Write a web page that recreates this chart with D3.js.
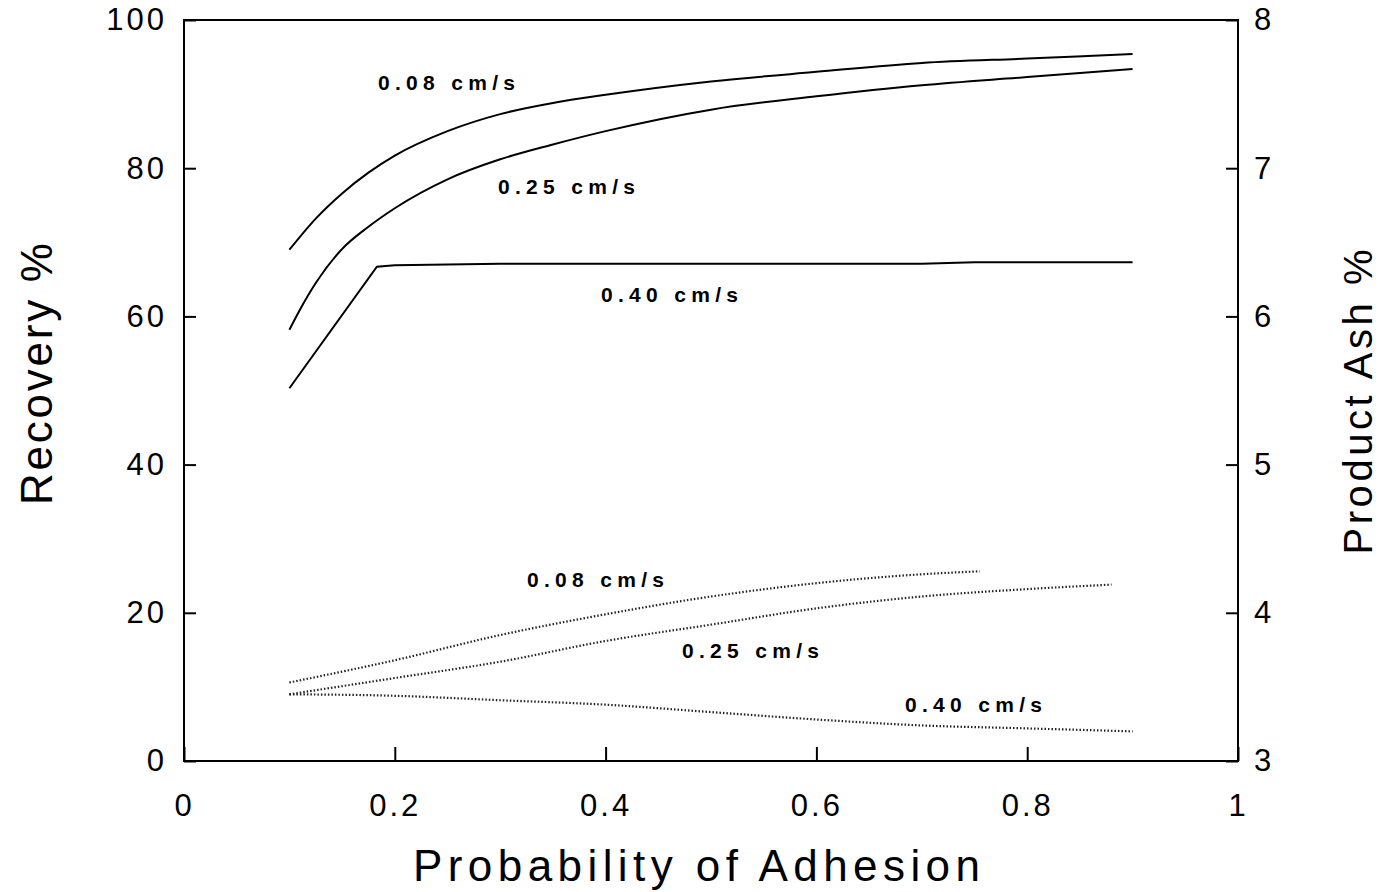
<!DOCTYPE html>
<html><head><meta charset="utf-8">
<script src="https://cdn.jsdelivr.net/npm/d3@7/dist/d3.min.js"></script>
<style>body{margin:0;background:#fff}svg{display:block}text{font-family:"Liberation Sans",Arial,sans-serif;fill:#000}</style>
</head><body><svg id="c" width="1380" height="892"></svg>
<script>
// Recovery % (left axis) — solid lines
const recX008 = [0.1,0.125,0.15,0.175,0.2,0.25,0.3,0.35,0.4,0.5,0.6,0.7,0.8,0.9];
const rec008  = [69.0,73.2,76.6,79.4,81.7,85.0,87.3,88.8,89.9,91.7,93.0,94.2,94.8,95.4];
const recX025 = [0.1,0.11,0.125,0.15,0.175,0.2,0.25,0.3,0.35,0.4,0.5,0.6,0.7,0.8,0.9];
const rec025  = [58.2,60.9,64.5,69.1,72.1,74.6,78.5,81.2,83.2,85.0,87.9,89.7,91.2,92.3,93.4];
const recX040 = [0.1,0.183,0.2,0.3,0.5,0.7,0.75,0.9];
const rec040  = [50.3,66.7,66.9,67.1,67.1,67.1,67.3,67.3];
// Product Ash % (right axis) — dotted lines
const ashX008 = [0.1,0.2,0.3,0.4,0.5,0.6,0.7,0.755];
const ash008  = [3.53,3.68,3.85,3.99,4.11,4.20,4.26,4.28];
const ashX025 = [0.1,0.2,0.3,0.4,0.5,0.6,0.7,0.8,0.88];
const ash025  = [3.45,3.56,3.67,3.81,3.92,4.03,4.11,4.16,4.19];
const ashX040 = [0.1,0.2,0.3,0.4,0.5,0.6,0.7,0.8,0.9];
const ash040  = [3.45,3.44,3.41,3.38,3.33,3.28,3.24,3.22,3.20];
// ticks
const xTicks = [0,0.2,0.4,0.6,0.8,1];
const xTickLabels = ["0","0.2","0.4","0.6","0.8","1"];
const yTicks = [0,20,40,60,80,100];
const y2Ticks = [3,4,5,6,7,8];
const seriesLabels = ["0.08 cm/s","0.25 cm/s","0.40 cm/s"];

const svg = d3.select("#c");
const L=184, R=1238, T=20, B=761;
const x = d3.scaleLinear().domain([0,1]).range([L,R]);
const y = d3.scaleLinear().domain([0,100]).range([B,T]);
const y2 = d3.scaleLinear().domain([3,8]).range([B,T]);

// frame
svg.append("rect").attr("x",L).attr("y",T).attr("width",R-L).attr("height",B-T)
  .attr("fill","none").attr("stroke","#000").attr("stroke-width",2);

function styleAxis(g){
  g.select(".domain").remove();
  g.selectAll(".tick line").attr("stroke","#000").attr("stroke-width",2);
  g.selectAll(".tick text").attr("font-size",31).attr("letter-spacing",3).attr("fill","#000");
}
svg.append("g").attr("transform",`translate(${L},0)`)
  .call(d3.axisLeft(y).tickValues(yTicks).tickFormat(d3.format("d")).tickSize(-12).tickPadding(17))
  .call(styleAxis);
svg.append("g").attr("transform",`translate(${R},0)`)
  .call(d3.axisRight(y2).tickValues(y2Ticks).tickFormat(d3.format("d")).tickSize(-12).tickPadding(16))
  .call(styleAxis);
svg.append("g").attr("transform",`translate(0,${B})`)
  .call(d3.axisBottom(x).tickValues(xTicks).tickFormat((d,i)=>xTickLabels[i]).tickSize(-14).tickPadding(33))
  .call(styleAxis);

// lines
const lineR = (xs,c)=>d3.line().x((d,i)=>x(xs[i])).y(d=>y(d)).curve(c);
const lineA = (xs)=>d3.line().x((d,i)=>x(xs[i])).y(d=>y2(d)).curve(d3.curveMonotoneX);
[[recX008,rec008,d3.curveMonotoneX],[recX025,rec025,d3.curveMonotoneX],[recX040,rec040,d3.curveLinear]].forEach(([xs,vs,c])=>{
  svg.append("path").attr("d",lineR(xs,c)(vs)).attr("fill","none").attr("stroke","#000").attr("stroke-width",2);
});
[[ashX008,ash008],[ashX025,ash025],[ashX040,ash040]].forEach(([xs,vs])=>{
  svg.append("path").attr("d",lineA(xs)(vs)).attr("fill","none").attr("stroke","#222")
    .attr("stroke-width",2.2).attr("stroke-dasharray","1.5,2");
});

// series labels
const labelPos = [
  [378,90,0],[498,194,1],[601,302,2],
  [527,587,0],[682,658,1],[905,712,2]
];
labelPos.forEach(([lx,ly,k])=>{
  svg.append("text").attr("x",lx).attr("y",ly).attr("font-size",21).attr("font-weight","bold")
    .attr("textLength",137).attr("lengthAdjust","spacing").text(seriesLabels[k]);
});

// axis titles
svg.append("text").attr("x",(413+980)/2).attr("y",881).attr("text-anchor","middle")
  .attr("font-size",44).attr("textLength",567).attr("lengthAdjust","spacing").text("Probability of Adhesion");
svg.append("text").attr("transform","translate(52,374) rotate(-90)").attr("text-anchor","middle")
  .attr("font-size",44).attr("textLength",262).attr("lengthAdjust","spacing").text("Recovery %");
svg.append("text").attr("transform","translate(1372,402) rotate(-90)").attr("text-anchor","middle")
  .attr("font-size",40).attr("textLength",305).attr("lengthAdjust","spacing").text("Product Ash %");
</script></body></html>
